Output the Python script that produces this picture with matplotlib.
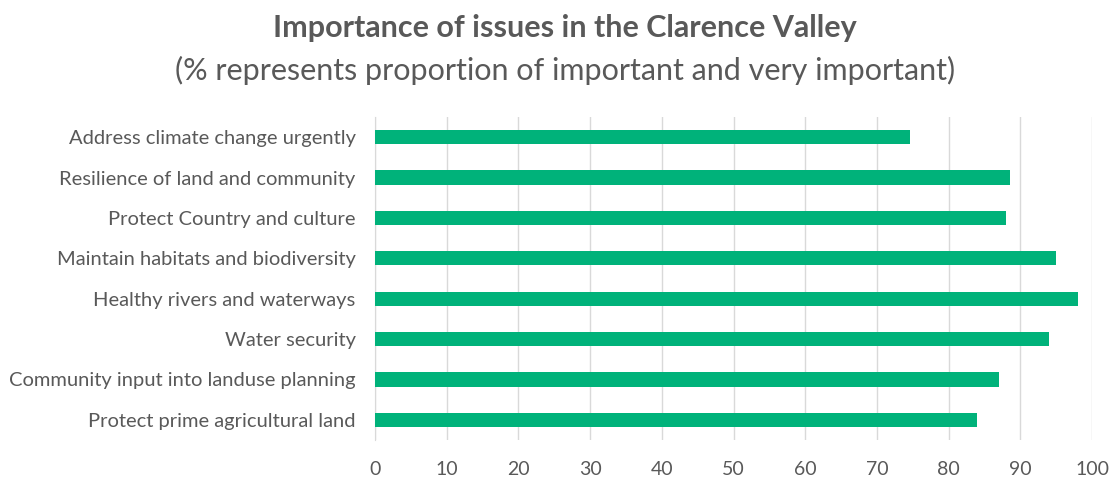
import matplotlib.pyplot as plt

# Issues, top to bottom as in the chart
issues = [
    'Address climate change urgently',
    'Resilience of land and community',
    'Protect Country and culture',
    'Maintain habitats and biodiversity',
    'Healthy rivers and waterways',
    'Water security',
    'Community input into landuse planning',
    'Protect prime agricultural land',
]
percent = [74.6, 88.5, 88.0, 95.0, 98.0, 94.0, 87.0, 84.0]
x_ticks = [0, 10, 20, 30, 40, 50, 60, 70, 80, 90, 100]

GREEN = '#00B27A'
GREY_TEXT = '#595959'
GRID = '#D9D9D9'

plt.rcParams['font.family'] = ['Lato', 'DejaVu Sans']

fig = plt.figure(figsize=(11.14, 4.78), dpi=100)
ax = fig.add_axes([375 / 1114, 38 / 478, 717 / 1114, 323 / 478])

# Reverse so the first issue sits at the top
pos = list(range(len(issues)))[::-1]
ax.barh(pos, percent, height=0.35, color=GREEN, zorder=3)

ax.set_xlim(0, 100)
ax.set_ylim(-0.5, len(issues) - 0.5)
ax.set_xticks(x_ticks)
ax.set_yticks(pos)
ax.set_yticklabels(issues)

ax.grid(axis='x', color=GRID, linewidth=1, zorder=0)
for side in ['top', 'right', 'bottom']:
    ax.spines[side].set_visible(False)
ax.spines['left'].set_color(GRID)
ax.tick_params(axis='both', length=0, colors=GREY_TEXT)
ax.tick_params(axis='y', pad=14, labelsize=14.5)
ax.tick_params(axis='x', pad=15, labelsize=14)

fig.text(565 / 1114, 1 - 28 / 478, 'Importance of issues in the Clarence Valley',
         ha='center', va='center', fontsize=22, fontweight='bold', color=GREY_TEXT)
fig.text(565 / 1114, 1 - 70 / 478, '(% represents proportion of important and very important)',
         ha='center', va='center', fontsize=22, color=GREY_TEXT)

plt.savefig('out.png', dpi=100)
